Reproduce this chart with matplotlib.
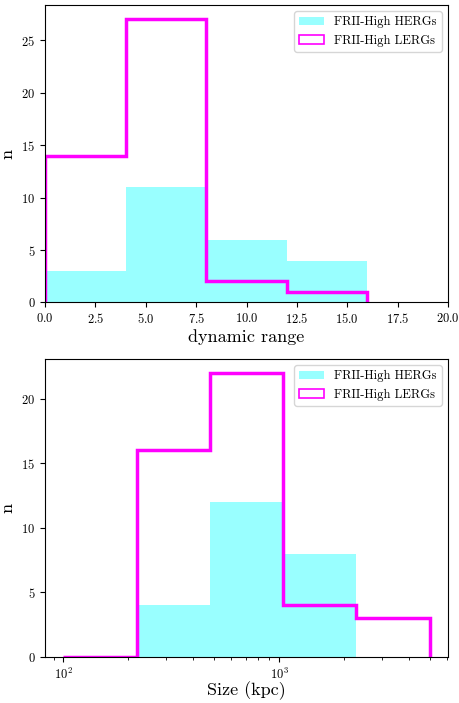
import numpy as np
import matplotlib
matplotlib.use("Agg")
from matplotlib import pyplot as plt
from matplotlib.patches import Patch

plt.rcParams['font.family'] = 'serif'
plt.rcParams['font.serif'] = ['cmr10']
plt.rcParams['mathtext.fontset'] = 'cm'
plt.rcParams['axes.formatter.use_mathtext'] = True
plt.rcParams['axes.unicode_minus'] = False

# dynamic range histogram
dr_edges = [0, 4, 8, 12, 16]
dr_herg = [3, 11, 6, 4]
dr_lerg = [14, 27, 2, 1]

# size histogram (kpc)
size_edges = np.logspace(2, np.log10(5000), 6)
size_herg = [0, 4, 12, 8, 0]
size_lerg = [0, 16, 22, 4, 3]

labels = ["FRII-High HERGs", "FRII-High LERGs"]

fig, axes = plt.subplots(2, 1, figsize=(4.6, 7.03), dpi=100)

handles = [Patch(facecolor='cyan', alpha=0.4, edgecolor='none'),
           Patch(facecolor='none', edgecolor='magenta', lw=1.2)]

ax = axes[0]
ax.hist(dr_edges[:-1], bins=dr_edges, weights=dr_herg, color='cyan', alpha=0.4)
ax.hist(dr_edges[:-1], bins=dr_edges, weights=dr_lerg, histtype='step', color='magenta', lw=2.5)
ax.set_xlim(0, 20)
ax.set_xlabel("dynamic range", fontsize=13, labelpad=2)

ax = axes[1]
ax.hist(size_edges[:-1], bins=size_edges, weights=size_herg, color='cyan', alpha=0.4)
ax.hist(size_edges[:-1], bins=size_edges, weights=size_lerg, histtype='step', color='magenta', lw=2.5)
ax.set_xscale('log')
ax.set_xlabel("Size (kpc)", fontsize=13, labelpad=0)

for a in axes:
    a.set_ylabel("n", fontsize=13)
    a.tick_params(labelsize=9)
    a.legend(handles, labels, loc='upper right', fontsize=9)

plt.subplots_adjust(left=0.098, right=0.974, top=0.993, bottom=0.066, hspace=0.19)
plt.savefig("out.png")
